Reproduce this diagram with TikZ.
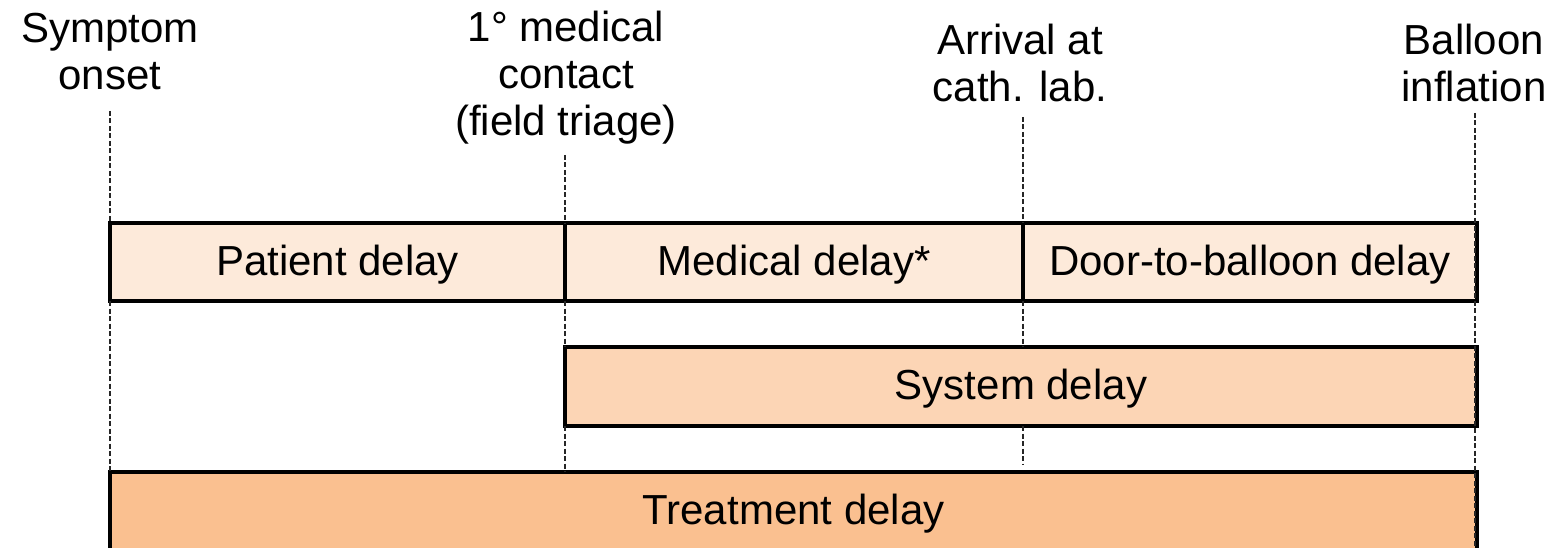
\documentclass[tikz,border=0pt]{standalone}
\usepackage{fontspec}
\setmainfont{Liberation Sans}
\definecolor{rowA}{HTML}{FDEADA}
\definecolor{rowB}{HTML}{FCD5B5}
\definecolor{rowC}{HTML}{FAC090}
\begin{document}
\begin{tikzpicture}[x=1pt,y=-1pt,
  box/.style={draw=black, line width=3.2pt, rectangle, inner sep=0pt, outer sep=0pt,
    text height=30pt, text depth=4pt, font=\fontsize{42}{47}\selectfont},
  lbl/.style={inner sep=0pt, anchor=base, font=\fontsize{42}{47}\selectfont},
  guide/.style={draw=black!85, line width=1.4pt, dash pattern=on 5pt off 2.5pt}]
\useasboundingbox (0,0) rectangle (1560,548);

% guide line coordinates
\coordinate (s0) at (110,111);
\coordinate (m0) at (565,155);
\coordinate (a0) at (1023,117);
\coordinate (a1) at (1023,465);
\coordinate (b0) at (1475,113);
\coordinate (b1) at (1475,548);

% boxes
\node[box, fill=rowA, minimum width=455pt, minimum height=78pt] (pat) at (337.5,262) {Patient delay};
\node[box, fill=rowA, minimum width=458pt, minimum height=78pt] (med) at (794,262) {Medical delay*};
\node[box, fill=rowA, minimum width=454pt, minimum height=78pt] (door) at (1250,262) {Door-to-balloon delay};
\node[box, fill=rowB, minimum width=912pt, minimum height=79pt] (sys) at (1021,386.5) {System delay};
\node[box, fill=rowC, minimum width=1367pt, minimum height=79pt] (treat) at (793.5,511.5) {Treatment delay};

% dashed guides
\draw[guide] (s0) -- (pat.north west);
\draw[guide] (pat.south west) -- (treat.north west);
\draw[guide] (m0) -- (pat.north east);
\draw[guide] (pat.south east) -- (sys.north west);
\draw[guide] (sys.south west) -- (m0 |- treat.north);
\draw[guide] (a0) -- (door.north west);
\draw[guide] (door.south west) -- (door.south west |- sys.north);
\draw[guide] (door.south west |- sys.south) -- (a1);
\draw[guide] (b0) -- (b1);

% event labels
\node[lbl] (lsym) at (110,43) {\begin{tabular}[t]{@{}c@{}}Symptom\\onset\end{tabular}};
\node[lbl] (lmed) at (566,42) {\begin{tabular}[t]{@{}c@{}}1° medical\\contact\\(field triage)\end{tabular}};
\node[lbl] (larr) at (1020,55) {\begin{tabular}[t]{@{}c@{}}Arrival at\\cath. lab.\end{tabular}};
\node[lbl] (lbal) at (1474,55) {\begin{tabular}[t]{@{}c@{}}Balloon\\inflation\end{tabular}};
\end{tikzpicture}
\end{document}
